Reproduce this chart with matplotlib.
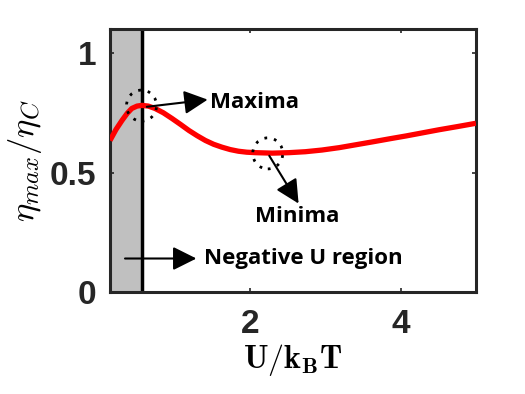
import matplotlib
matplotlib.use("Agg")
import matplotlib.pyplot as plt
from matplotlib.patches import Ellipse
import numpy as np

# data
u_vals = [0.13, 0.21, 0.29, 0.36, 0.42, 0.49, 0.556, 0.64, 0.73, 0.84, 0.956, 1.07, 1.18, 1.29, 1.4, 1.51, 1.62, 1.73, 1.84, 1.95, 2.07, 2.18, 2.29, 2.4, 2.51, 2.62, 2.73, 2.95, 3.18, 3.4, 3.62, 3.85, 4.07, 4.29, 4.51, 4.75, 5.0]
eta_vals = [0.634, 0.68, 0.718, 0.748, 0.768, 0.778, 0.781, 0.778, 0.768, 0.75, 0.726, 0.701, 0.676, 0.654, 0.634, 0.618, 0.606, 0.596, 0.589, 0.585, 0.583, 0.582, 0.581, 0.582, 0.583, 0.585, 0.587, 0.594, 0.604, 0.616, 0.628, 0.641, 0.653, 0.666, 0.679, 0.692, 0.706]
x_ticks = [2, 4]
y_ticks = [0, 0.5, 1]
y_tick_labels = ["0", "0.5", "1"]
neg_region_end = 0.53
vline_x = 0.55
max_pt = (0.55, 0.78)
min_pt = (2.23, 0.58)

plt.rcParams['mathtext.fontset'] = 'cm'
fig = plt.figure(figsize=(5.25, 3.94), dpi=100)
ax = fig.add_axes([0.2095, 0.259, 0.697, 0.667])

xmin, xmax = 0.13, 5.0
ax.axvspan(xmin, neg_region_end, color='#c0c0c0', zorder=0)
ax.axvline(vline_x, color='black', lw=2.5, zorder=2)
ax.plot(u_vals, eta_vals, color='red', lw=3.8, zorder=3, solid_capstyle='butt', solid_joinstyle='round')

ax.set_xlim(xmin, xmax)
ax.set_ylim(0, 1.1)
ax.set_xticks(x_ticks)
ax.set_xticklabels([str(t) for t in x_ticks])
ax.set_yticks(y_ticks)
ax.set_yticklabels(y_tick_labels)
for lab in ax.get_xticklabels() + ax.get_yticklabels():
    lab.set_fontfamily('Liberation Sans')
    lab.set_fontweight('bold')
    lab.set_fontsize(24)
    lab.set_color('#262626')
ax.tick_params(direction='in', length=3, width=1.2, top=True, right=True, color='#262626')
ax.tick_params(axis='x', pad=12)
ax.tick_params(axis='y', pad=10)
for s in ax.spines.values():
    s.set_linewidth(2.2)
    s.set_color('#262626')

ax.set_xlabel(r'$\mathbf{U/k_BT}$', fontsize=23, labelpad=2)
ax.set_ylabel(r'$\eta_{max}/\eta_C$', fontsize=25, labelpad=4)

# dotted circles
for (cx, cy) in [max_pt, min_pt]:
    e = Ellipse((cx, cy), width=0.4, height=0.13, fill=False, ls=(0, (1, 2.5)), lw=2, color='black', zorder=4)
    ax.add_patch(e)

tfont = dict(fontfamily='Open Sans', fontweight='bold', fontsize=16, color='black')
ap = dict(arrowstyle='-|>', mutation_scale=36, lw=1.5, color='black', shrinkA=0, shrinkB=0)
ax.annotate('', xy=(1.43, 0.805), xytext=(0.62, 0.775), arrowprops=ap)
ax.text(1.46, 0.795, 'Maxima', va='center', ha='left', **tfont)
ax.annotate('', xy=(2.64, 0.37), xytext=(2.25, 0.57), arrowprops=ap)
ax.text(2.62, 0.315, 'Minima', va='center', ha='center', **tfont)
ax.annotate('', xy=(1.28, 0.14), xytext=(0.33, 0.14), arrowprops=ap)
ax.text(1.38, 0.14, 'Negative U region', va='center', ha='left', **tfont)

fig.savefig('out.png', dpi=100)
